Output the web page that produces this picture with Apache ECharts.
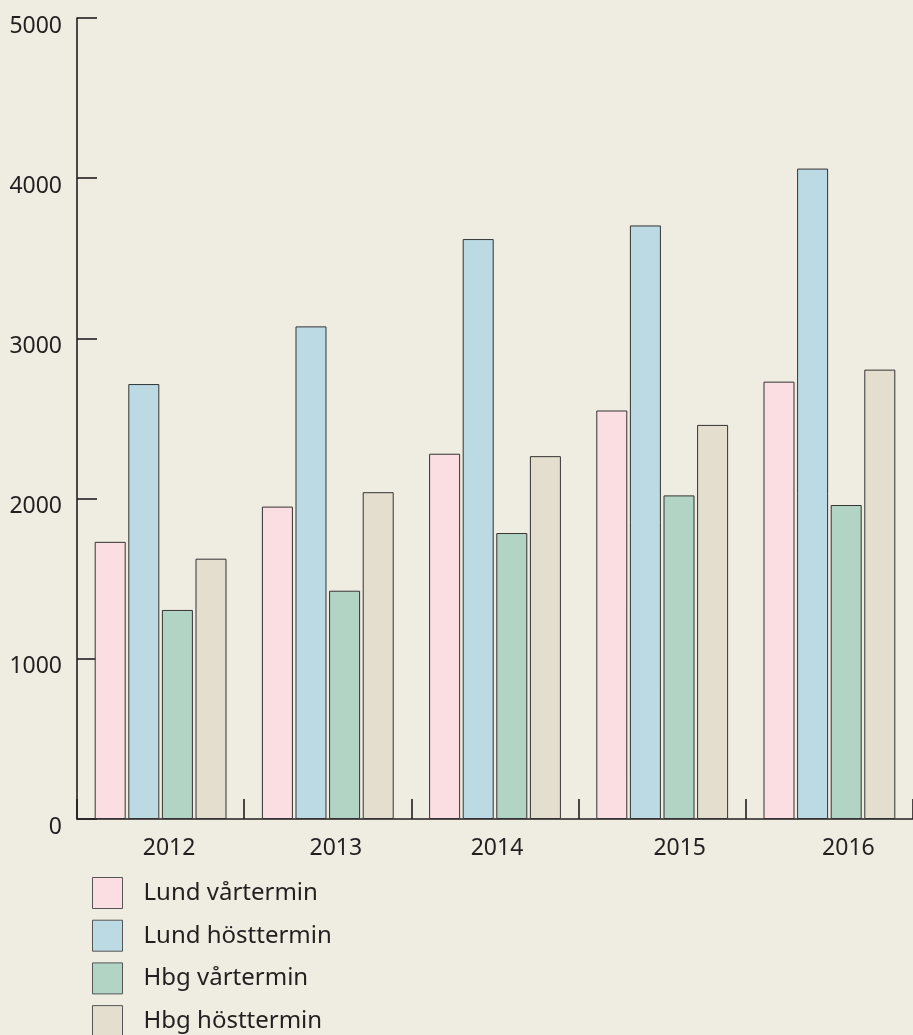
<!DOCTYPE html>
<html>
<head>
<meta charset="utf-8">
<script src="https://cdn.jsdelivr.net/npm/echarts@6/dist/echarts.min.js"></script>
<style>
html,body{margin:0;padding:0;background:#efece1;}
#chart{width:913px;height:1035px;}
</style>
</head>
<body>
<div id="chart"></div>
<script>
const years = ['2012', '2013', '2014', '2015', '2016'];
const seriesNames = ['Lund vårtermin', 'Lund hösttermin', 'Hbg vårtermin', 'Hbg hösttermin'];
const lundVar = [1730, 1950, 2280, 2550, 2730];
const lundHost = [2715, 3075, 3620, 3705, 4060];
const hbgVar = [1305, 1425, 1785, 2020, 1960];
const hbgHost = [1625, 2040, 2265, 2460, 2805];
const yTicks = [0, 1000, 2000, 3000, 4000, 5000];

const colors = ['#fbdee1', '#bcdae3', '#b2d4c4', '#e3dece'];
const values = [lundVar, lundHost, hbgVar, hbgHost];
const font = 'Noto Sans';
const ink = '#231f20';

// per-label horizontal nudges (rich styles) to match reference placement
const labelStyleKeys = ['a', 'b', 'c', 'd', 'e'];

const chart = echarts.init(document.getElementById('chart'), null, {renderer: 'canvas'});
chart.setOption({
  backgroundColor: '#efece1',
  animation: false,
  textStyle: {fontFamily: font, color: ink},
  grid: {left: 77, right: -1, top: 18, bottom: 216, containLabel: false},
  legend: {
    orient: 'vertical',
    left: 92,
    top: 877,
    height: 220,
    padding: 0,
    itemWidth: 30,
    itemHeight: 31,
    itemGap: 10.7,
    icon: 'rect',
    data: seriesNames,
    textStyle: {fontFamily: font, fontSize: 24, color: ink, padding: [0, 0, 0, 16]},
    itemStyle: {borderColor: '#555', borderWidth: 1}
  },
  xAxis: {
    type: 'category',
    data: years,
    axisLine: {lineStyle: {color: ink, width: 1.6}},
    axisTick: {show: true, inside: true, length: 20, lineStyle: {color: ink, width: 1.6}},
    axisLabel: {
      margin: 18,
      fontFamily: font,
      fontSize: 23,
      color: ink,
      formatter: function (v, i) { return '{' + labelStyleKeys[i] + '|' + v + '}'; },
      rich: {
        a: {fontFamily: font, fontSize: 23, color: ink, padding: [0, 0, 0, 17]},
        b: {fontFamily: font, fontSize: 23, color: ink, padding: [0, 0, 0, 16]},
        c: {fontFamily: font, fontSize: 23, color: ink, padding: [0, 0, 0, 4]},
        d: {fontFamily: font, fontSize: 23, color: ink, padding: [0, 0, 0, 35]},
        e: {fontFamily: font, fontSize: 23, color: ink, padding: [0, 0, 0, 38]}
      }
    },
    splitLine: {show: false}
  },
  yAxis: {
    type: 'value',
    min: yTicks[0],
    max: yTicks[yTicks.length - 1],
    interval: 1000,
    axisLine: {show: true, lineStyle: {color: ink, width: 1.6}},
    axisTick: {show: true, inside: true, length: 20, lineStyle: {color: ink, width: 1.6}},
    axisLabel: {
      margin: 15,
      fontFamily: font,
      fontSize: 23,
      color: ink,
      formatter: function (v) { return '{v|' + String(v) + '}'; },
      rich: {
        v: {fontFamily: font, fontSize: 23, color: ink, padding: [16, 0, 0, 0]}
      }
    },
    splitLine: {show: false}
  },
  series: seriesNames.map(function (name, i) {
    return {
      name: name,
      type: 'bar',
      data: values[i],
      barWidth: 31,
      barGap: '8.4%',
      itemStyle: {color: colors[i], borderColor: '#333', borderWidth: 1}
    };
  })
});
</script>
</body>
</html>
